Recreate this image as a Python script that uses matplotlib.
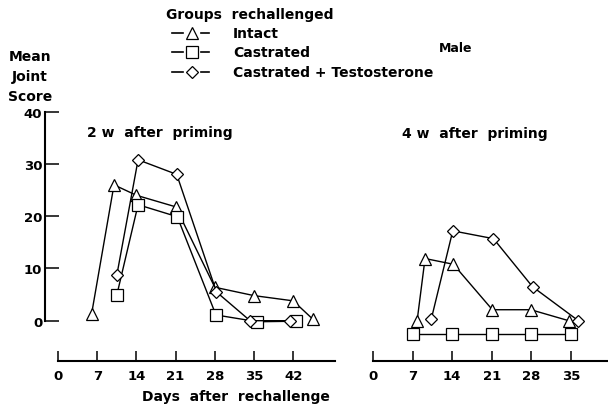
import matplotlib
matplotlib.use("Agg")
import matplotlib.pyplot as plt
from matplotlib.lines import Line2D

plt.rcParams['font.family'] = ['DejaVu Sans']
plt.rcParams['font.weight'] = 'bold'

# ---- data ----
days_2w_intact = [6, 10, 14, 21, 28, 35, 42, 45.5]
intact_2w = [1.3, 26.0, 24.0, 21.8, 6.4, 4.8, 3.8, 0.3]
days_2w_cast = [10.5, 14.3, 21.3, 28.2, 35.6, 42.5]
cast_2w = [4.9, 22.2, 19.9, 1.1, -0.2, -0.1]
days_2w_ct = [10.5, 14.3, 21.2, 28.3, 34.3, 41.4]
ct_2w = [8.7, 30.8, 28.0, 5.5, 0.0, 0.0]

days_4w_intact = [7.8, 9.2, 14.2, 21.1, 27.9, 34.6]
intact_4w = [0.0, 11.9, 10.8, 2.1, 2.1, 0.0]
days_4w_cast = [7, 14, 21, 28, 35]
cast_4w = [-2.6, -2.6, -2.6, -2.6, -2.6]
days_4w_ct = [10.3, 14.1, 21.3, 28.2, 36.3]
ct_4w = [0.3, 17.2, 15.7, 6.5, 0.0]

x_ticks_2w = [0, 7, 14, 21, 28, 35, 42]
x_ticks_4w = [0, 7, 14, 21, 28, 35]
y_ticks = [0, 10, 20, 30, 40]

group_labels = ["Intact", "Castrated", "Castrated + Testosterone"]
group_markers = ["^", "s", "D"]
group_msize = [8.5, 8.5, 6.2]

W, H = 608, 406
fig = plt.figure(figsize=(W / 100, H / 100), dpi=100)

def fx(px):
    return px / W

def fy(py):
    return 1 - py / H

# vertical geometry (pixels)
axis_py = 362.0      # x-axis line
zero_py = 321.7      # data value 0
top_py = 112.7       # data value 40
ppu = (zero_py - top_py) / 40.0
ybot = -(axis_py - zero_py) / ppu

# left panel
ppd_l = 39.2 / 7
x0_l = 58.0
lx_left, lx_right = 45.0, 335.0
ax1 = fig.add_axes([fx(lx_left), fy(axis_py), (lx_right - lx_left) / W, (axis_py - top_py) / H])
ax1.set_xlim((lx_left - x0_l) / ppd_l, (lx_right - x0_l) / ppd_l)
ax1.set_ylim(ybot, 40)

# right panel
ppd_r = (571.0 - 373.0) / 35
x0_r = 373.0
rx_left, rx_right = 371.0, 608.0
ax2 = fig.add_axes([fx(rx_left), fy(axis_py), (rx_right - rx_left) / W, (axis_py - top_py) / H])
ax2.set_xlim((rx_left - x0_r) / ppd_r, (rx_right - x0_r) / ppd_r)
ax2.set_ylim(ybot, 40)

lw = 1.0
mew = 0.9

def series(ax, x, y, marker, ms):
    ax.plot(x, y, color='black', lw=lw, marker=marker, ms=ms, mfc='white',
            mec='black', mew=mew, clip_on=False)

series(ax1, days_2w_intact, intact_2w, "^", group_msize[0])
series(ax1, days_2w_cast, cast_2w, "s", group_msize[1])
series(ax1, days_2w_ct, ct_2w, "D", group_msize[2])

series(ax2, days_4w_intact, intact_4w, "^", group_msize[0])
series(ax2, days_4w_cast, cast_4w, "s", group_msize[1])
series(ax2, days_4w_ct, ct_4w, "D", group_msize[2])

tick_fs = 9.5
for ax in (ax1, ax2):
    ax.patch.set_visible(False)
    ax.spines['top'].set_visible(False)
    ax.spines['right'].set_visible(False)
    ax.spines['bottom'].set_linewidth(1.5)
    ax.tick_params(axis='x', direction='in', length=7.5, width=1.1, pad=6,
                   labelsize=tick_fs)

ax1.spines['left'].set_linewidth(1.5)
ax1.spines['left'].set_bounds(0, 40)
ax1.spines['bottom'].set_bounds(0, ax1.get_xlim()[1])
ax1.set_yticks(y_ticks)
ax1.set_yticklabels([str(v) for v in y_ticks])
ax1.tick_params(axis='y', direction='in', length=10, width=1.1, pad=2, labelsize=tick_fs)
ax1.set_xticks(x_ticks_2w)
ax1.set_xticklabels([str(v) for v in x_ticks_2w])

ax2.spines['left'].set_visible(False)
ax2.spines['bottom'].set_bounds(0, ax2.get_xlim()[1])
ax2.set_yticks([])
ax2.set_xticks(x_ticks_4w)
ax2.set_xticklabels([str(v) for v in x_ticks_4w])

for ax in (ax1, ax2):
    for lab in ax.get_xticklabels() + ax.get_yticklabels():
        lab.set_fontweight('bold')

fs = 10
# titles and annotations
fig.text(fx(166), fy(15), "Groups  rechallenged", fontsize=fs, fontweight='bold',
         ha='left', va='center')
leg_y = [34, 53, 73]
for lab, mk, ms, py in zip(group_labels, group_markers, group_msize, leg_y):
    fig.add_artist(Line2D([fx(172), fx(183)], [fy(py), fy(py)], color='black', lw=1.2,
                          transform=fig.transFigure))
    fig.add_artist(Line2D([fx(201), fx(209)], [fy(py), fy(py)], color='black', lw=1.2,
                          transform=fig.transFigure))
    fig.add_artist(Line2D([fx(192)], [fy(py)], marker=mk, ms=ms, mfc='white', mec='black',
                          mew=mew, lw=0, transform=fig.transFigure))
    fig.text(fx(233), fy(py), lab, fontsize=fs, fontweight='bold', ha='left', va='center')

fig.text(fx(439), fy(48), "Male", fontsize=9, fontweight='bold', ha='left', va='center')
for word, py in zip(["Mean", "Joint", "Score"], [57, 77, 97]):
    fig.text(fx(30), fy(py), word, fontsize=fs, fontweight='bold', ha='center', va='center')

fig.text(fx(87), fy(133), "2 w  after  priming", fontsize=fs, fontweight='bold',
         ha='left', va='center')
fig.text(fx(402), fy(134), "4 w  after  priming", fontsize=fs, fontweight='bold',
         ha='left', va='center')
fig.text(fx(236), fy(397), "Days  after  rechallenge", fontsize=fs, fontweight='bold',
         ha='center', va='center')

fig.savefig("out.png", dpi=100)
